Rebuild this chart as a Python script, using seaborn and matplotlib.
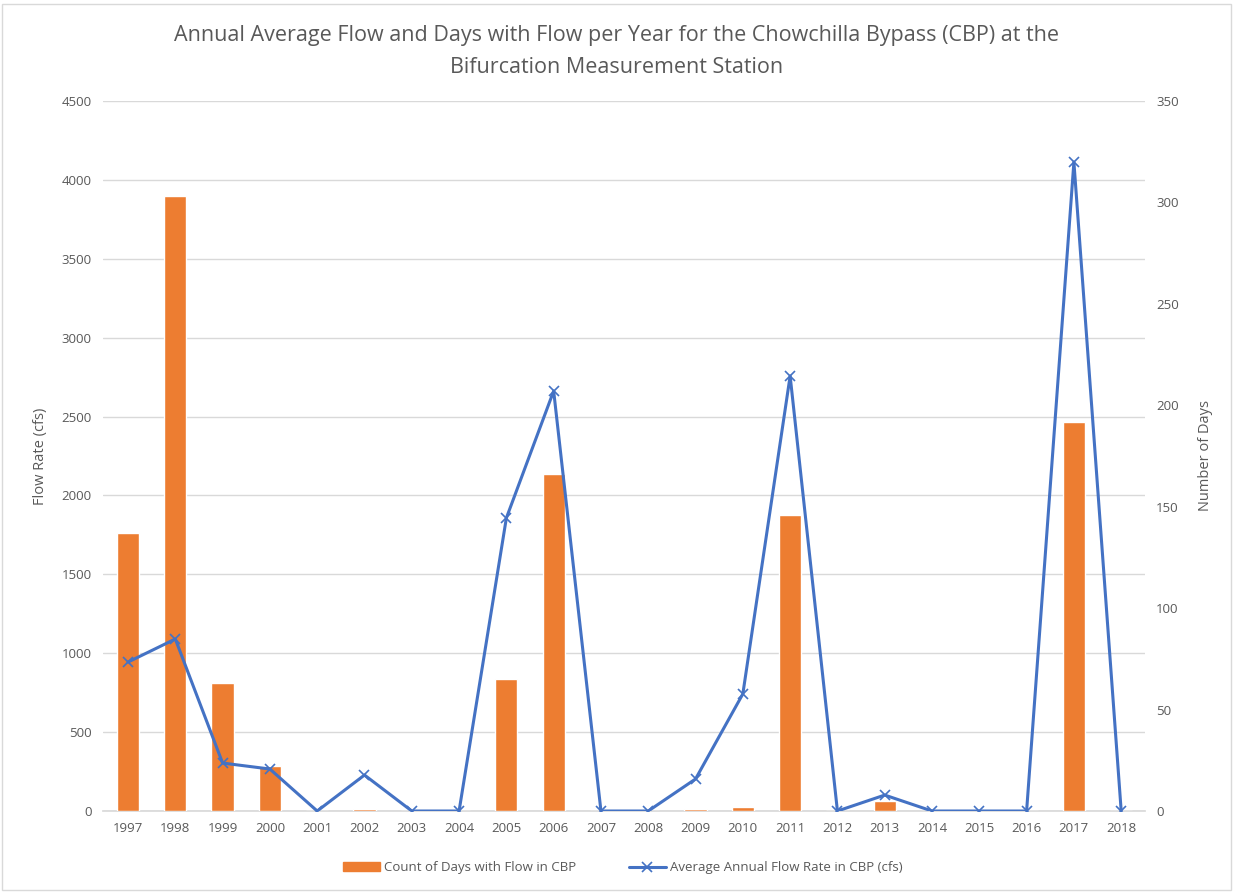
import matplotlib
matplotlib.use('Agg')
import matplotlib.pyplot as plt
import seaborn as sns
import pandas as pd
from matplotlib.patches import Rectangle
from matplotlib.lines import Line2D

# ============================================================
# DATA
# ============================================================
years = [str(y) for y in range(1997, 2019)]
days_with_flow = [137, 303, 63, 22, 0, 1, 0, 0, 65, 166, 0, 0, 1, 2, 146, 0, 5, 0, 0, 0, 192, 0]
avg_flow_cfs = [944, 1090, 304, 266, 0, 228, 0, 0, 1857, 2662, 0, 0, 203, 742, 2757, 0, 101, 0, 0, 0, 4113, 0]

title = ('Annual Average Flow and Days with Flow per Year for the Chowchilla Bypass (CBP) at the\n'
         'Bifurcation Measurement Station')

df = pd.DataFrame({'Year': years, 'Days': days_with_flow, 'Flow': avg_flow_cfs})

# ============================================================
# STYLE
# ============================================================
sns.set_theme(style='white')
plt.rcParams['font.family'] = ['Open Sans', 'DejaVu Sans']
TXT = '#595959'
ORANGE = '#ED7D31'
BLUE = '#4472C4'

fig = plt.figure(figsize=(12.33, 8.92), dpi=100)
ax = fig.add_axes([0.0835, 0.0908, 0.845, 0.796])
ax2 = ax.twinx()   # bars, right axis
ax3 = ax.twinx()   # line, left scale, drawn on top

# --- bars: days with flow (right axis) ---
sns.barplot(data=df, x='Year', y='Days', order=years, color=ORANGE,
            saturation=1, width=0.47, ax=ax2)
ax2.set_ylim(0, 350)
ax2.set_yticks(range(0, 351, 50))
ax2.set_ylabel('Number of Days', color=TXT, fontsize=10.5, labelpad=14)

# --- line: average flow (left scale) ---
sns.lineplot(data=df, x='Year', y='Flow', color=BLUE, linewidth=2.2,
             marker='x', markersize=7, markeredgewidth=1.2, markeredgecolor=BLUE,
             ax=ax3)
ax3.set_ylim(0, 4500)
ax3.set_yticks([])
ax3.set_ylabel('')

ax.set_ylim(0, 4500)
ax.set_yticks(range(0, 4501, 500))
ax.set_ylabel('Flow Rate (cfs)', color=TXT, fontsize=10.5, labelpad=10)
ax.yaxis.grid(True, color='#D9D9D9', linewidth=1)
ax.set_xlim(-0.53, 21.5)
for a in (ax2, ax3):
    a.set_xlim(-0.53, 21.5)
ax.set_xticks(range(len(years)))
ax.set_xticklabels(years)
ax2.set_xlabel('')
ax3.set_xlabel('')
ax.set_xlabel('')

for a in (ax, ax2, ax3):
    for s in a.spines.values():
        s.set_visible(False)
    a.tick_params(length=0, labelsize=9.5, labelcolor=TXT, pad=8)
ax.spines['bottom'].set_visible(True)
ax.spines['bottom'].set_color('#D9D9D9')
ax2.tick_params(axis='x', labelbottom=False)
ax3.tick_params(axis='x', labelbottom=False)

fig.suptitle(title, y=0.972, fontsize=15.5, color=TXT, linespacing=1.7)

handles = [Rectangle((0, 0), 1, 1, color=ORANGE),
           Line2D([0], [0], color=BLUE, linewidth=2.2, marker='x', markersize=7, markeredgewidth=1.2)]
fig.legend(handles, ['Count of Days with Flow in CBP', 'Average Annual Flow Rate in CBP (cfs)'],
           loc='center', bbox_to_anchor=(0.505, 0.027), ncol=2, frameon=False,
           fontsize=9.5, labelcolor=TXT, handlelength=2.8, columnspacing=4, handletextpad=0.3)

fig.patches.append(Rectangle((0.002, 0.002), 0.996, 0.993, transform=fig.transFigure,
                             fill=False, edgecolor='#D9D9D9', linewidth=1))

fig.savefig('out.png', dpi=100)
